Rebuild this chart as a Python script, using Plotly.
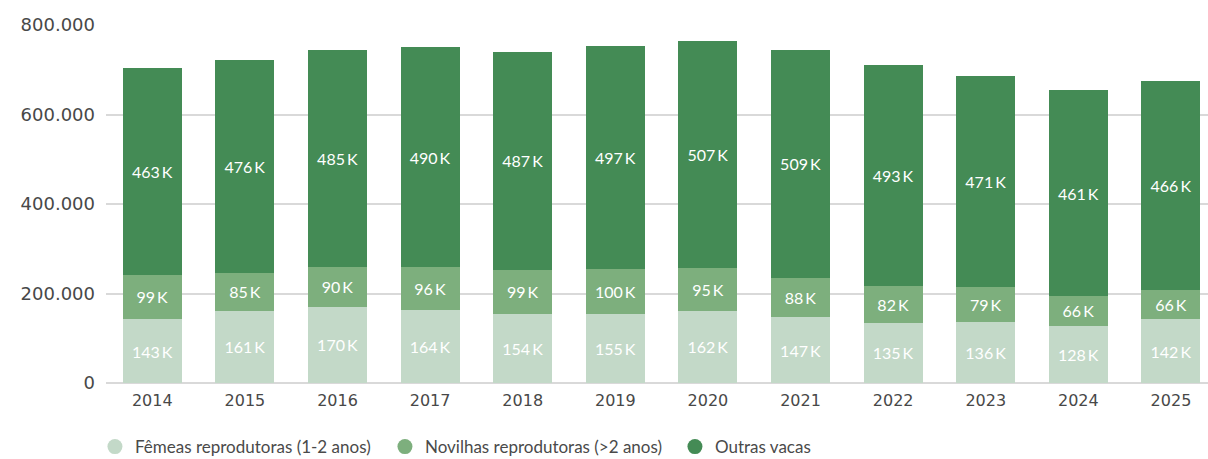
import plotly.graph_objects as go

years = ["2014", "2015", "2016", "2017", "2018", "2019", "2020", "2021", "2022", "2023", "2024", "2025"]
femeas = [143000, 161000, 170000, 164000, 154000, 155000, 162000, 147000, 135000, 136000, 128000, 142000]
novilhas = [99000, 85000, 90000, 96000, 99000, 100000, 95000, 88000, 82000, 79000, 66000, 66000]
outras = [463000, 476000, 485000, 490000, 487000, 497000, 507000, 509000, 493000, 471000, 461000, 466000]

series = [
    ("Fêmeas reprodutoras (1-2 anos)", femeas, "#C3D9C8"),
    ("Novilhas reprodutoras (>2 anos)", novilhas, "#7DAF7D"),
    ("Outras vacas", outras, "#448B55"),
]

font_family = "Lato, 'Open Sans', sans-serif"
tick_family = "'DejaVu Sans', sans-serif"

fig = go.Figure()
for name, vals, color in series:
    fig.add_trace(go.Bar(
        x=years, y=vals, name=name,
        marker=dict(color=color, line=dict(width=0)),
        text=[f"{v // 1000}\u2009K" for v in vals],
        textposition="inside", insidetextanchor="middle",
        textfont=dict(color="white", size=16, family=font_family),
        hoverinfo="skip", showlegend=False,
    ))
# legend entries with round markers
for name, vals, color in series:
    fig.add_trace(go.Scatter(
        x=[None], y=[None], mode="markers", name=name,
        marker=dict(symbol="circle", size=15, color=color),
        showlegend=True, hoverinfo="skip",
    ))

fig.update_layout(
    barmode="stack",
    bargap=0.363,
    width=1208, height=459,
    margin=dict(l=106, r=0, t=25, b=76),
    plot_bgcolor="white", paper_bgcolor="white",
    separators=",.",
    uniformtext=dict(mode="show", minsize=15),
    font=dict(family=font_family, color="#4a4a4a"),
    xaxis=dict(
        type="category", range=[-0.5, 11.4],
        showgrid=False, showline=False, ticks="",
        tickfont=dict(size=16, color="#484848", family=tick_family),
        ticklabelstandoff=6,
    ),
    yaxis=dict(
        range=[0, 800000], tickvals=[0, 200000, 400000, 600000, 800000],
        tickformat=",d", showgrid=True, gridcolor="#d9d9d9", gridwidth=1.5,
        zeroline=True, zerolinecolor="#d9d9d9", zerolinewidth=1.5,
        tickfont=dict(size=18, color="#484848", family=tick_family), ticks="", ticklabelstandoff=10,
    ),
    legend=dict(
        orientation="h", xref="container", x=0.0786, xanchor="left",
        yref="container", y=0.026, yanchor="middle",
        font=dict(size=17, color="#4a4a4a"), traceorder="normal",
        itemwidth=30, entrywidth=245, entrywidthmode="pixels",
    ),
)

fig.write_html("out.html")
